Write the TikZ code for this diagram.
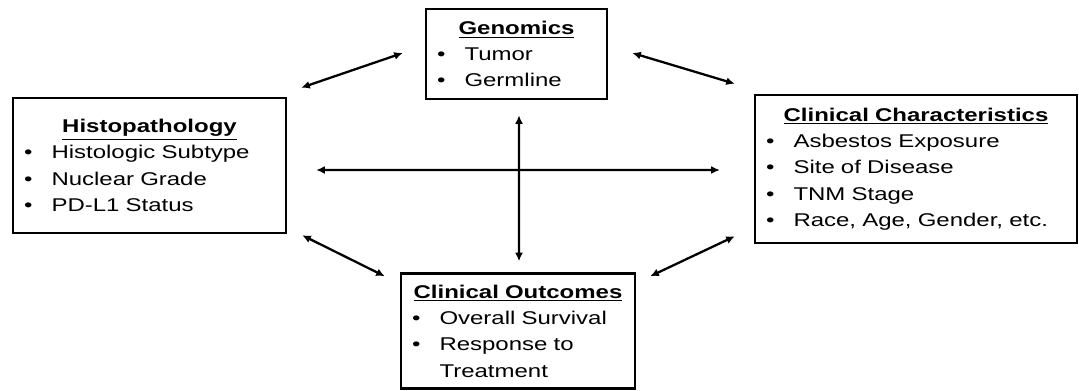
\documentclass[tikz,border=0pt]{standalone}
\usepackage{fontspec}
\setmainfont{Liberation Sans}[FakeStretch=1.3]
\usetikzlibrary{arrows.meta, positioning, calc}

\newcommand{\boxtitle}[1]{\makebox[\linewidth][c]{\textbf{\underline{#1}}}}
\newcommand{\bitem}[1]{\makebox[0.55cm][l]{\textbullet}#1}

\begin{document}
\begin{tikzpicture}[
    x=0.02cm, y=-0.02cm,
    panel/.style={rectangle, draw=black, line width=1.5pt, inner xsep=0.22cm, align=left, font=\fontsize{10.5}{15}\selectfont},
    link/.style={line width=1.3pt, >={Latex[length=1.7mm,width=1.6mm]}, <->}
]
    \useasboundingbox (0,0) rectangle (1079,390);

    \node[panel, minimum width=5.46cm, minimum height=2.7cm, text width=5.02cm] (histo) at (149.5,165.5)
        {\boxtitle{Histopathology}\\ \bitem{Histologic Subtype}\\ \bitem{Nuclear Grade}\\ \bitem{PD-L1 Status}};
    \node[panel, minimum width=3.62cm, minimum height=1.8cm, text width=3.18cm] (genomics) at (516.5,54)
        {\boxtitle{Genomics}\\ \bitem{Tumor}\\ \bitem{Germline}};
    \node[panel, minimum width=6.44cm, minimum height=2.96cm, text width=6.0cm] (clinchar) at (916,169)
        {\boxtitle{Clinical Characteristics}\\ \bitem{Asbestos Exposure}\\ \bitem{Site of Disease}\\ \bitem{TNM Stage}\\ \bitem{Race, Age, Gender, etc.}};
    \node[panel, minimum width=4.68cm, minimum height=2.3cm, text width=4.24cm] (outcomes) at (518,331)
        {\boxtitle{Clinical Outcomes}\\ \bitem{Overall Survival}\\ \bitem{Response to}\\ \hspace*{0.55cm}Treatment};

    % links between the boxes
    \draw[link] ($(histo.north east)+(14,-9)$) -- ($(genomics.west)+(-22,-1)$);
    \draw[link] ($(genomics.east)+(24,-1)$) -- ($(clinchar.north west)+(-19,-10)$);
    \draw[link] ($(histo.south east)+(15,1)$) -- ($(outcomes.north west)+(-15,4)$);
    \draw[link] ($(clinchar.south west)+(-19,-8)$) -- ($(outcomes.north east)+(14,4)$);
    \draw[link] ($(histo.east)+(29,4.5)$) -- ($(clinchar.west)+(-34,1)$);
    \draw[link] ($(genomics.south)+(2.5,15)$) -- ($(outcomes.north)+(1,-11)$);

\end{tikzpicture}
\end{document}
